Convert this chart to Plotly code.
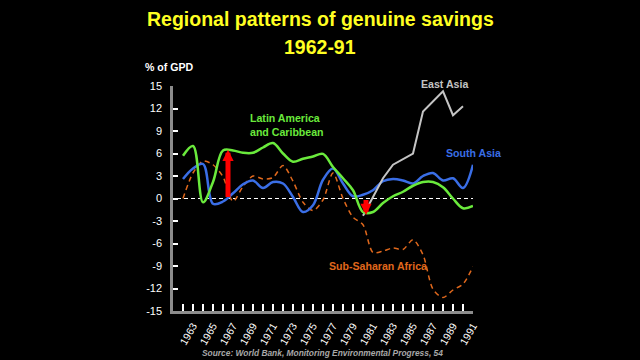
import plotly.graph_objects as go

years = list(range(1962, 1992))

latin_america = [5.7, 7.0, -0.5, 2.2, 6.4, 6.4, 6.1, 6.1, 6.8, 7.4, 6.0, 4.9, 5.3, 5.6, 5.95,
                 4.2, 2.7, 1.1, -1.8, -1.8, -0.6, 0.3, 0.9, 1.7, 2.2, 2.2, 1.5, 0.0, -1.3, -1.0]
south_asia = [2.6, 4.0, 4.6, -0.7, -0.4, 0.7, 1.9, 2.4, 1.4, 2.2, 2.0, 0.2, -1.8, -0.9, 2.5,
              4.0, 2.0, 0.3, 0.5, 1.1, 2.3, 2.6, 2.4, 2.0, 3.0, 3.4, 2.4, 2.7, 1.4, 4.5]
ssa = [0.0, 3.4, 5.0, 4.5, 2.9, -0.4, 1.6, 3.0, 2.6, 2.8, 4.4, 2.3, -0.5, -1.6, -0.2,
       3.4, 0.0, -2.5, -3.5, -7.2, -7.0, -6.6, -6.8, -5.5, -7.5, -12.1, -13.2, -12.2, -11.4, -9.1]
ea_years = list(range(1980, 1991))
east_asia = [-2.3, 0.2, 2.7, 4.5, 5.2, 6.0, 11.6, 13.0, 14.3, 11.1, 12.3]

y_ticks = list(range(-15, 16, 3))
y_tick_labels = [str(v) for v in y_ticks]  # ASCII hyphen-minus as in the reference
x_label_years = list(range(1963, 1992, 2))

arrow_x = [1966.5, 1980.3]
arrow_tip = [6.5, -2.2]

GREEN = "#6aea3c"
BLUE = "#3a6ee6"
ORANGE = "#e0681c"
GRAY = "#c4c4c4"
FONT = "Liberation Sans, Arial, sans-serif"

fig = go.Figure()
fig.add_trace(go.Scatter(x=years, y=ssa, mode="lines",
                         line=dict(color=ORANGE, width=1.5, dash="5px,4px", shape="spline", smoothing=0.8)))
fig.add_trace(go.Scatter(x=years, y=south_asia, mode="lines",
                         line=dict(color=BLUE, width=2.5, shape="spline", smoothing=1.0)))
fig.add_trace(go.Scatter(x=ea_years, y=east_asia, mode="lines",
                         line=dict(color=GRAY, width=2)))
fig.add_trace(go.Scatter(x=years, y=latin_america, mode="lines",
                         line=dict(color=GREEN, width=2.5, shape="spline", smoothing=1.0)))

# zero line
fig.add_shape(type="line", x0=1961.4, x1=1991, y0=0, y1=0, xref="x", yref="y",
              line=dict(color="white", width=1.2, dash="4px,3px"), layer="below")

for ax_, tip in zip(arrow_x, arrow_tip):
    fig.add_annotation(x=ax_, y=tip, ax=ax_, ay=0, xref="x", yref="y", axref="x", ayref="y",
                       showarrow=True, arrowhead=2, arrowwidth=5, arrowsize=0.45,
                       arrowcolor="#ff0000", text="")

labels = [
    dict(text="Latin America<br>and Caribbean", x=248, y=125, color=GREEN, xanchor="left"),
    dict(text="East Asia", x=419, y=84, color=GRAY, xanchor="left"),
    dict(text="South Asia", x=444, y=152.5, color=BLUE, xanchor="left"),
    dict(text="Sub-Saharan Africa", x=327, y=266, color=ORANGE, xanchor="left"),
    dict(text="% of GPD", x=143, y=67, color="white", xanchor="left"),
]
def px2paper(xp, yp):
    return (xp - 173) / 300.0, (310.7 - yp) / 224.7

for lb in labels:
    px, py = px2paper(lb["x"], lb["y"])
    fig.add_annotation(x=px, y=py, xref="paper", yref="paper", text="<b>" + lb["text"] + "</b>",
                       showarrow=False, xanchor=lb["xanchor"], yanchor="middle", align="left",
                       font=dict(family=FONT, size=10.6, color=lb["color"]))

for txt, yp in [("Regional patterns of genuine savings", 19.5), ("1962-91", 47)]:
    px, py = px2paper(320, yp)
    fig.add_annotation(x=px, y=py, xref="paper", yref="paper", text="<b>" + txt + "</b>",
                       showarrow=False, xanchor="center", yanchor="middle",
                       font=dict(family=FONT, size=19.5, color="#ffff22"))

px, py = px2paper(322.5, 353)
fig.add_annotation(x=px, y=py, xref="paper", yref="paper",
                   text="<b><i>Source: World Bank, Monitoring Environmental Progress, 54</i></b>",
                   showarrow=False, xanchor="center", yanchor="middle",
                   font=dict(family=FONT, size=8.4, color="#a8a8a8"))

fig.update_layout(
    width=640, height=360, paper_bgcolor="black", plot_bgcolor="black",
    margin=dict(l=173, r=167, t=86, b=49.3), showlegend=False,
    font=dict(family=FONT, color="white"),
)
fig.update_xaxes(range=[1961, 1991], tickvals=x_label_years, ticktext=[str(y) for y in x_label_years],
                 tickangle=-60, ticks="inside", ticklen=7, tickwidth=1.5, tickcolor="white",
                 minor=dict(tick0=1962, dtick=1, ticks="inside", ticklen=7, tickwidth=1.5, tickcolor="white"),
                 showline=True, linecolor="#8c8c8c", linewidth=2.5, showgrid=False, zeroline=False,
                 tickfont=dict(family=FONT, size=10.5, color="white"), ticklabelstandoff=2,
                 tickprefix="<b>", ticksuffix="</b>")
fig.update_yaxes(range=[-15, 15], tickvals=y_ticks, ticktext=y_tick_labels,
                 ticks="inside", ticklen=5, tickwidth=1.5, tickcolor="white",
                 showline=True, linecolor="#8c8c8c", linewidth=2.5, showgrid=False, zeroline=False,
                 tickfont=dict(family=FONT, size=11, color="white"), ticklabelstandoff=6,
                 tickprefix="<b>", ticksuffix="</b>")

fig.write_html("out.html", config={"displayModeBar": False},
               post_script="document.body.style.margin='0';document.body.style.background='black';"
                           "document.documentElement.style.overflow='hidden';")
